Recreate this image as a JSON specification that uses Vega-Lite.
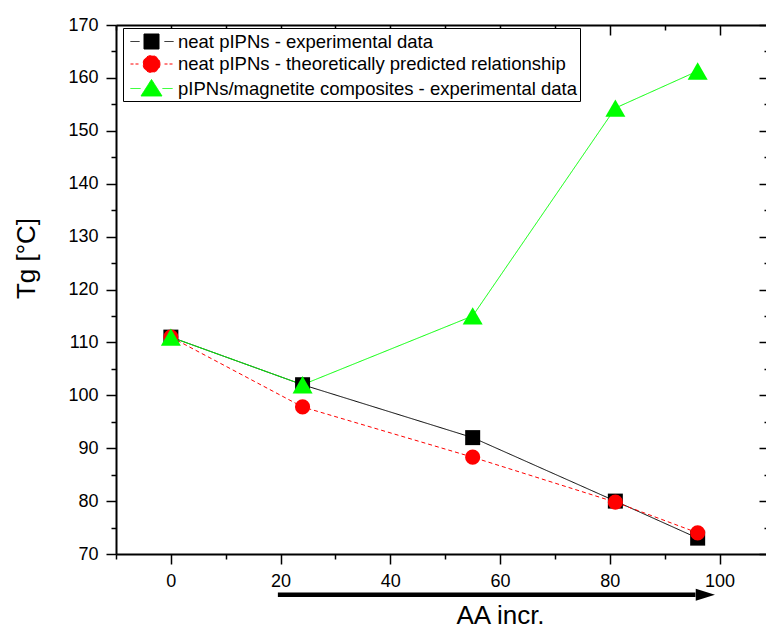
{
  "$schema": "https://vega.github.io/schema/vega-lite/v6.json",
  "width": 653,
  "height": 529,
  "autosize": {"type": "none"},
  "padding": {"left": 116, "top": 25, "right": 0, "bottom": 74},
  "background": "white",
  "config": {
    "view": {"stroke": null},
    "font": "Liberation Sans",
    "axis": {
      "grid": false,
      "domainColor": "black",
      "domainWidth": 2,
      "tickColor": "black",
      "tickWidth": 1.5,
      "labelColor": "black",
      "labelFont": "Liberation Sans",
      "labelFontSize": 18,
      "titleFont": "Liberation Sans",
      "titleFontSize": 26,
      "titleFontWeight": "normal",
      "titleColor": "black"
    },
    "legend": {
      "labelFont": "Liberation Sans",
      "labelFontSize": 18.5,
      "labelColor": "black",
      "labelLimit": 0
    }
  },
  "datasets": {
    "main": [
      {"series": "neat pIPNs - experimental data", "aa": 0, "tg": 111},
      {"series": "neat pIPNs - experimental data", "aa": 24, "tg": 102},
      {"series": "neat pIPNs - experimental data", "aa": 55, "tg": 92},
      {"series": "neat pIPNs - experimental data", "aa": 81, "tg": 80},
      {"series": "neat pIPNs - experimental data", "aa": 96, "tg": 73},
      {"series": "neat pIPNs - theoretically predicted relationship", "aa": 0, "tg": 111},
      {"series": "neat pIPNs - theoretically predicted relationship", "aa": 24, "tg": 97.8},
      {"series": "neat pIPNs - theoretically predicted relationship", "aa": 55, "tg": 88.3},
      {"series": "neat pIPNs - theoretically predicted relationship", "aa": 81, "tg": 79.8},
      {"series": "neat pIPNs - theoretically predicted relationship", "aa": 96, "tg": 74},
      {"series": "pIPNs/magnetite composites - experimental data", "aa": 0, "tg": 111},
      {"series": "pIPNs/magnetite composites - experimental data", "aa": 24, "tg": 102},
      {"series": "pIPNs/magnetite composites - experimental data", "aa": 55, "tg": 115},
      {"series": "pIPNs/magnetite composites - experimental data", "aa": 81, "tg": 154.3},
      {"series": "pIPNs/magnetite composites - experimental data", "aa": 96, "tg": 161.3}
    ],
    "arrow": [
      {"start": 19.5, "end": 95.6, "head": 97.4, "level": 62.3}
    ]
  },
  "layer": [
    {
      "data": {"name": "main"},
      "mark": {"type": "line", "strokeWidth": 1},
      "encoding": {
        "x": {
          "field": "aa", "type": "quantitative",
          "scale": {"domain": [-10, 109], "nice": false, "zero": false},
          "axis": {
            "orient": "bottom",
            "values": [-10, 0, 10, 20, 30, 40, 50, 60, 70, 80, 90, 100],
            "labelExpr": "datum.value % 20 === 0 ? datum.label : ''",
            "tickSize": {"condition": {"test": "datum.value % 20 !== 0", "value": 5}, "value": 10},
            "labelPadding": 8,
            "title": "AA incr.",
            "titleX": 384,
            "titleY": 69,
            "titleAlign": "center",
            "titleBaseline": "alphabetic"
          }
        },
        "y": {
          "field": "tg", "type": "quantitative",
          "scale": {"domain": [70, 170], "nice": false, "zero": false},
          "axis": {
            "orient": "left",
            "values": [70, 75, 80, 85, 90, 95, 100, 105, 110, 115, 120, 125, 130, 135, 140, 145, 150, 155, 160, 165, 170],
            "labelExpr": "datum.value % 10 === 0 ? datum.label : ''",
            "tickSize": {"condition": {"test": "datum.value % 10 !== 0", "value": 5}, "value": 10},
            "labelPadding": 8,
            "title": "Tg [°C]",
            "titleAngle": -90,
            "titleX": -82,
            "titleY": 233,
            "titleAlign": "center",
            "titleBaseline": "alphabetic"
          }
        },
        "color": {
          "field": "series", "type": "nominal",
          "scale": {
            "domain": ["neat pIPNs - experimental data", "neat pIPNs - theoretically predicted relationship", "pIPNs/magnetite composites - experimental data"],
            "range": ["#000000", "#ff0000", "#00ff00"]
          },
          "legend": {
            "title": null,
            "orient": "none",
            "legendX": 7,
            "legendY": 3,
            "padding": 3,
            "rowPadding": 2.5,
            "strokeColor": "black",
            "fillColor": "white",
            "symbolSize": 400,
            "symbolOffset": 15,
            "labelOffset": 16,
            "encode": {
              "symbols": {
                "update": {
                  "shape": {"signal": "datum.value === 'neat pIPNs - experimental data' ? 'M-2.1,0H-1.2M1.3,0H2.2M-0.75,-0.75H0.75V0.75H-0.75Z' : datum.value === 'neat pIPNs - theoretically predicted relationship' ? 'M-2.1,0H-1.8M-1.6,0H-1.3M1.3,0H1.6M1.8,0H2.1M0.85,0A0.85,0.85 0 1,1 -0.85,0A0.85,0.85 0 1,1 0.85,0Z' : 'M-2.1,0H-1.1M1.1,0H2.1M0,-0.9L1.05,0.75L-1.05,0.75Z'"},
                  "fill": {"signal": "datum.value === 'neat pIPNs - experimental data' ? '#000000' : datum.value === 'neat pIPNs - theoretically predicted relationship' ? '#ff0000' : '#00ff00'"},
                  "strokeWidth": {"value": 1},
                  "strokeDash": {"value": []},
                  "opacity": {"value": 1},
                  "fillOpacity": {"value": 1},
                  "size": {"value": 400}
                }
              }
            }
          }
        },
        "strokeDash": {
          "field": "series", "type": "nominal",
          "scale": {
            "domain": ["neat pIPNs - experimental data", "neat pIPNs - theoretically predicted relationship", "pIPNs/magnetite composites - experimental data"],
            "range": [[1, 0], [4, 3], [1, 0]]
          },
          "legend": null
        }
      }
    },
    {
      "data": {"name": "main"},
      "transform": [{"filter": "datum.series === 'neat pIPNs - experimental data'"}],
      "mark": {"type": "point", "filled": true, "opacity": 1, "strokeWidth": 0, "shape": "square", "size": 225, "color": "#000000"},
      "encoding": {
        "x": {"field": "aa", "type": "quantitative", "axis": null},
        "y": {"field": "tg", "type": "quantitative", "axis": null}
      }
    },
    {
      "data": {"name": "main"},
      "transform": [{"filter": "datum.series === 'neat pIPNs - theoretically predicted relationship'"}],
      "mark": {"type": "point", "filled": true, "opacity": 1, "strokeWidth": 0, "shape": "circle", "size": 230, "color": "#ff0000"},
      "encoding": {
        "x": {"field": "aa", "type": "quantitative", "axis": null},
        "y": {"field": "tg", "type": "quantitative", "axis": null}
      }
    },
    {
      "data": {"name": "main"},
      "transform": [{"filter": "datum.series === 'pIPNs/magnetite composites - experimental data'"}],
      "mark": {"type": "point", "filled": true, "opacity": 1, "strokeWidth": 0, "shape": "triangle-up", "size": 400, "color": "#00ff00"},
      "encoding": {
        "x": {"field": "aa", "type": "quantitative", "axis": null},
        "y": {"field": "tg", "type": "quantitative", "axis": null}
      }
    },
    {
      "data": {"name": "arrow"},
      "mark": {"type": "rule", "strokeWidth": 4.5, "color": "black"},
      "encoding": {
        "x": {
          "field": "start", "type": "quantitative",
          "axis": {
            "orient": "top",
            "values": [-10, 0, 10, 20, 30, 40, 50, 60, 70, 80, 90, 100],
            "labels": false,
            "title": null,
            "tickSize": {"condition": {"test": "datum.value % 20 !== 0", "value": -5}, "value": -10}
          }
        },
        "x2": {"field": "end"},
        "y": {
          "field": "level", "type": "quantitative",
          "axis": {
            "orient": "right",
            "values": [70, 75, 80, 85, 90, 95, 100, 105, 110, 115, 120, 125, 130, 135, 140, 145, 150, 155, 160, 165, 170],
            "labels": false,
            "title": null,
            "tickSize": {"condition": {"test": "datum.value % 10 !== 0", "value": -5}, "value": -10}
          }
        }
      }
    },
    {
      "data": {"name": "arrow"},
      "mark": {"type": "point", "filled": true, "color": "black", "opacity": 1, "strokeWidth": 0, "size": 144, "shape": "M-1.6,-1L1.6,0L-1.6,1Z"},
      "encoding": {
        "x": {"field": "head", "type": "quantitative", "axis": null},
        "y": {"field": "level", "type": "quantitative", "axis": null}
      }
    }
  ],
  "resolve": {"axis": {"x": "independent", "y": "independent"}}
}
